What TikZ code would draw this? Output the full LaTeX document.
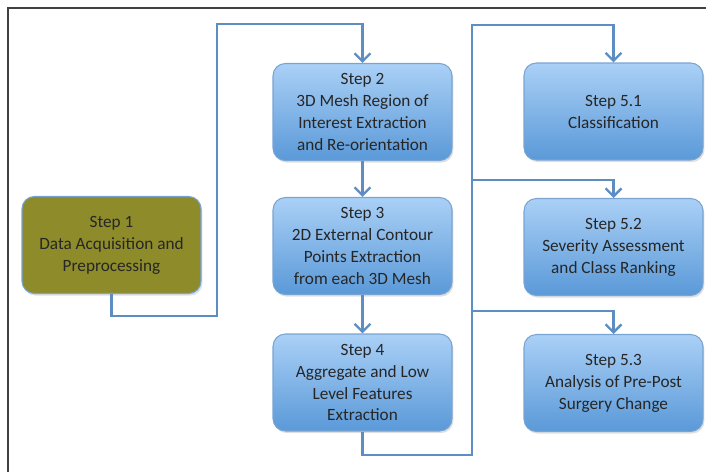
\documentclass[tikz,border=0pt]{standalone}
\usepackage{fontspec}
\setmainfont{Carlito}
\usepackage{tikz}
\usetikzlibrary{positioning,arrows.meta,shadows}

\definecolor{linkblue}{HTML}{5E8DC1}
\definecolor{boxtop}{HTML}{AAD0F6}
\definecolor{boxbot}{HTML}{5A99D8}
\definecolor{boxline}{HTML}{79A4D2}
\definecolor{olivefill}{HTML}{8E8B2B}

\begin{document}
\begin{tikzpicture}[x=0.02cm,y=-0.02cm,
      font=\fontsize{9.8}{12.5}\selectfont,
      stepbox/.style={draw=boxline,line width=0.6pt,rounded corners=7pt,minimum width=3.58cm,minimum height=1.94cm,
        align=center,inner sep=2pt,top color=boxtop,bottom color=boxbot,text=black!85,
        drop shadow={shadow xshift=0.8pt,shadow yshift=-1.2pt,opacity=0.25}},
      firstbox/.style={stepbox,top color=olivefill,bottom color=olivefill},
      arr/.style={draw=linkblue,line width=1.5pt,-{Straight Barb[length=4.5pt,width=9pt,line width=1.4pt]}},
      link/.style={draw=linkblue,line width=1.5pt}]
    \useasboundingbox (0,0) rectangle (706,471);
    % screenshot frame
    \draw[line width=0.9pt,black!75] (8,480) -- (8,8) -- (720,8);
    % steps
    \node[firstbox] (s1) at (111.5,245) {Step 1\\Data Acquisition and\\Preprocessing};
    \node[stepbox] (s2) at (362.5,112) {Step 2\\3D Mesh Region of\\Interest Extraction\\and Re-orientation};
    \node[stepbox] (s3) at (362.5,246) {Step 3\\2D External Contour\\Points Extraction\\from each 3D Mesh};
    \node[stepbox] (s4) at (362.5,382.5) {Step 4\\Aggregate and Low\\Level Features\\Extraction};
    \node[stepbox] (s51) at (613.5,111.5) {Step 5.1\\Classification};
    \node[stepbox] (s52) at (613.5,247) {Step 5.2\\Severity Assessment\\and Class Ranking};
    \node[stepbox] (s53) at (613.5,383) {Step 5.3\\Analysis of Pre-Post\\Surgery Change};
    % connectors
    \coordinate (b1) at (217,316);
    \coordinate (t1) at (217,24);
    \coordinate (b4) at (472,455);
    \coordinate (t4) at (472,25);
    \coordinate (j2) at (472,180);
    \coordinate (j3) at (472,311);
    \draw[arr] (s1.south) |- (b1) -- (t1) -| (s2.north);
    \draw[arr] (s2) -- (s3);
    \draw[arr] (s3) -- (s4);
    \draw[arr] (s4.south) |- (b4) -- (t4) -| (s51.north);
    \draw[arr] (j2) -| (s52.north);
    \draw[arr] (j3) -| (s53.north);
\end{tikzpicture}
\end{document}
